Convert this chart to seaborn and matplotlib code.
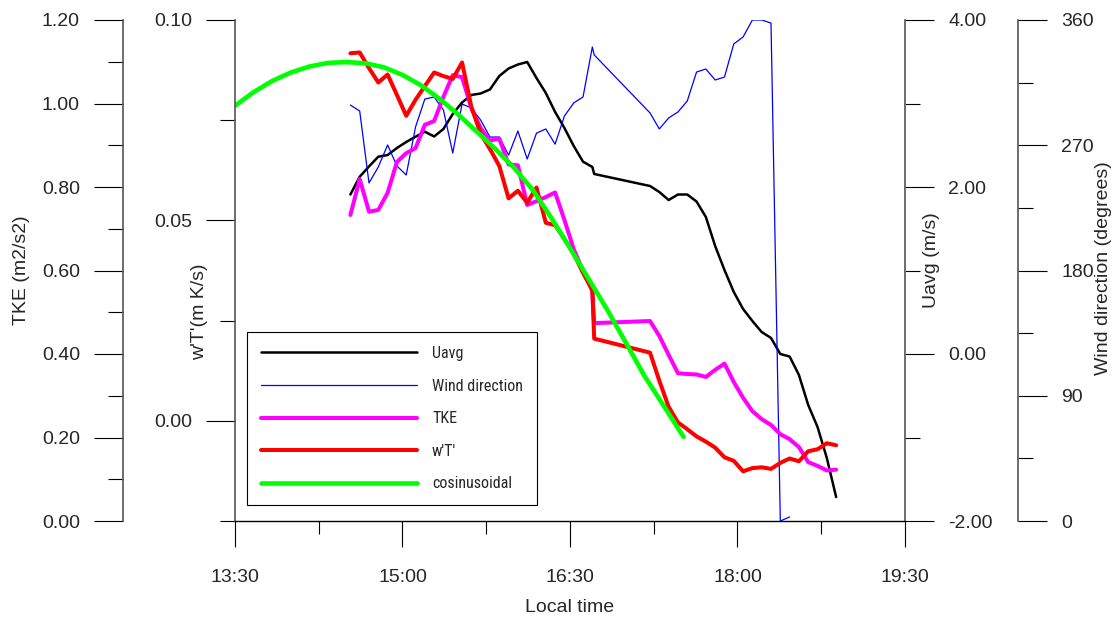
import matplotlib
matplotlib.use("Agg")
import matplotlib.pyplot as plt
from matplotlib.lines import Line2D
from matplotlib import font_manager
from matplotlib.font_manager import FontProperties
import seaborn as sns

sns.set_style("ticks")
plt.rcParams["font.family"] = ["Liberation Sans", "DejaVu Sans"]

# observation times (local), gap between 16:43 and 17:13
times = [
    "14:32", "14:37", "14:42", "14:47", "14:52", "14:57", "15:02", "15:07",
    "15:12", "15:17", "15:22", "15:27", "15:32", "15:37", "15:42", "15:47",
    "15:52", "15:57", "16:02", "16:07", "16:12", "16:17", "16:22", "16:27",
    "16:32", "16:37", "16:42", "16:43",
    "17:13", "17:18", "17:23", "17:28", "17:33", "17:38", "17:43", "17:48",
    "17:53", "17:58", "18:03", "18:08", "18:13", "18:18", "18:23", "18:28",
    "18:33", "18:38", "18:43", "18:48", "18:53",
]

uavg = [
    1.910, 2.123, 2.246, 2.363, 2.383, 2.467, 2.539, 2.602, 2.662, 2.605,
    2.695, 2.874, 3.012, 3.102, 3.120, 3.168, 3.329, 3.419, 3.467, 3.497,
    3.305, 3.126, 2.898, 2.707, 2.491, 2.303, 2.240, 2.156,
    2.012, 1.940, 1.844, 1.910, 1.910, 1.826, 1.641, 1.293, 1.006, 0.743,
    0.539, 0.395, 0.263, 0.192, 0.000, -0.030, -0.251, -0.611, -0.874,
    -1.246, -1.713,
]

# wind direction stops at 18:28
wind_dir = [
    298.9, 294.6, 242.9, 254.4, 270.2, 255.1, 248.6, 283.1, 303.2, 304.7,
    295.3, 264.4, 299.6, 296.8, 288.1, 275.9, 275.9, 262.9, 280.2, 260.1,
    278.7, 281.7, 270.8, 291.0, 300.4, 304.7, 340.6, 334.9,
    293.2, 281.7, 289.6, 293.9, 301.8, 322.6, 324.8, 316.9, 319.0, 342.8,
    347.8, 360.0, 360.0, 357.8, 0.0, 2.9,
]

tke = [
    0.733, 0.819, 0.741, 0.745, 0.786, 0.860, 0.881, 0.893, 0.949, 0.958,
    1.016, 1.068, 1.063, 0.989, 0.941, 0.911, 0.916, 0.854, 0.852, 0.757,
    0.766, 0.776, 0.787, 0.721, 0.651, 0.599, 0.551, 0.474,
    0.479, 0.443, 0.398, 0.354, 0.352, 0.351, 0.345, 0.362, 0.377, 0.333,
    0.295, 0.263, 0.244, 0.230, 0.208, 0.196, 0.177, 0.141, 0.132, 0.121,
    0.123,
]

wT = [
    0.0917, 0.0919, 0.0880, 0.0844, 0.0864, 0.0813, 0.0761, 0.0801, 0.0835,
    0.0869, 0.0860, 0.0853, 0.0894, 0.0783, 0.0716, 0.0678, 0.0636, 0.0555,
    0.0574, 0.0544, 0.0582, 0.0494, 0.0488, 0.0454, 0.0417, 0.0369, 0.0327,
    0.0205,
    0.0170, 0.0100, 0.0035, -0.0004, -0.0021, -0.0039, -0.0052, -0.0067,
    -0.0091, -0.0100, -0.0126, -0.0118, -0.0116, -0.0120, -0.0105, -0.0094,
    -0.0101, -0.0076, -0.0071, -0.0056, -0.0061,
]

# cosinusoidal fit of w'T'
cos_times = [
    "13:30", "13:40", "13:50", "14:00", "14:10", "14:20", "14:30", "14:40",
    "14:50", "15:00", "15:10", "15:20", "15:30", "15:40", "15:50", "16:00",
    "16:10", "16:20", "16:30", "16:40", "16:50", "17:00", "17:10", "17:20",
    "17:31",
]
cos_fit = [
    0.0786, 0.0820, 0.0848, 0.0869, 0.0884, 0.0893, 0.0895, 0.0892, 0.0882,
    0.0863, 0.0837, 0.0803, 0.0764, 0.0721, 0.0678, 0.0631, 0.0576, 0.0506,
    0.0431, 0.0354, 0.0277, 0.0195, 0.0112, 0.0040, -0.0040,
]

x_ticks = [13.5, 15.0, 16.5, 18.0, 19.5]
x_ticklabels = ["13:30", "15:00", "16:30", "18:00", "19:30"]


def to_hours(hhmm):
    h, m = hhmm.split(":")
    return int(h) + int(m) / 60


t_obs = [to_hours(s) for s in times]
t_cos = [to_hours(s) for s in cos_times]

W, H = 1116, 617
PT = 0.72  # points per pixel at dpi 100
fig = plt.figure(figsize=(W / 100, H / 100), dpi=100)
ax_w = fig.add_axes([235 / W, 96 / H, 670 / W, 501 / H])
ax_tke = ax_w.twinx()
ax_dir = ax_w.twinx()
ax_u = ax_w.twinx()

ax_w.set_zorder(4)
ax_w.patch.set_visible(False)
ax_tke.set_zorder(3)
ax_dir.set_zorder(2)
ax_u.set_zorder(1)

sns.lineplot(x=t_obs, y=uavg, ax=ax_u, color="black", linewidth=1.8)
sns.lineplot(x=t_obs[:len(wind_dir)], y=wind_dir, ax=ax_dir, color="#0000ff", linewidth=0.9)
sns.lineplot(x=t_obs, y=tke, ax=ax_tke, color="#ff00ff", linewidth=2.9)
sns.lineplot(x=t_obs, y=wT, ax=ax_w, color="#ff0000", linewidth=2.9)
sns.lineplot(x=t_cos, y=cos_fit, ax=ax_w, color="#00ff00", linewidth=3.3)

ax_w.set_xlim(13.5, 19.5)
ax_w.set_ylim(-0.025, 0.10)
ax_tke.set_ylim(0, 1.2)
ax_u.set_ylim(-2, 4)
ax_dir.set_ylim(0, 360)

for ax in (ax_w, ax_tke, ax_u, ax_dir):
    ax.set_xlabel("")
    ax.set_ylabel("")
    for s in ax.spines.values():
        s.set_visible(False)
        s.set_color("#555555")
        s.set_linewidth(1.2)

ax_w.spines["left"].set_visible(True)
ax_w.spines["bottom"].set_visible(True)
ax_w.spines["bottom"].set_color("black")
ax_w.spines["bottom"].set_linewidth(1.0)

ax_tke.spines["left"].set_visible(True)
ax_tke.spines["left"].set_position(("outward", 112 * PT))
ax_tke.yaxis.set_ticks_position("left")

ax_u.spines["right"].set_visible(True)
ax_dir.spines["right"].set_visible(True)
ax_dir.spines["right"].set_position(("outward", 113 * PT))

# ticks
ax_w.set_xticks(x_ticks)
ax_w.set_xticklabels(x_ticklabels)
ax_w.set_xticks([14.25, 15.75, 17.25, 18.75], minor=True)
ax_w.set_yticks([0.0, 0.05, 0.10])
ax_w.set_yticklabels(["0.00", "0.05", "0.10"])
ax_w.set_yticks([-0.025, 0.025, 0.075], minor=True)

tke_ticks = [0.0, 0.2, 0.4, 0.6, 0.8, 1.0, 1.2]
ax_tke.set_yticks(tke_ticks)
ax_tke.set_yticklabels([f"{v:.2f}" for v in tke_ticks])
ax_tke.set_yticks([0.1, 0.3, 0.5, 0.7, 0.9, 1.1], minor=True)

u_ticks = [-2, 0, 2, 4]
ax_u.set_yticks(u_ticks)
ax_u.set_yticklabels([f"{v:.2f}" for v in u_ticks])
ax_u.set_yticks([-1, 1, 3], minor=True)

dir_ticks = [0, 90, 180, 270, 360]
ax_dir.set_yticks(dir_ticks)
ax_dir.set_yticklabels([str(v) for v in dir_ticks])
ax_dir.set_yticks([45, 135, 225, 315], minor=True)

fs = 14
for ax in (ax_w, ax_tke, ax_u, ax_dir):
    ax.tick_params(axis="y", which="major", length=21, width=0.8, pad=10,
                   labelsize=fs, color="black", direction="out")
    ax.tick_params(axis="y", which="minor", length=10.5, width=0.8,
                   color="black", direction="out")
ax_w.tick_params(axis="x", which="major", length=19, width=0.8, pad=15.5,
                 labelsize=fs, color="black", direction="out")
ax_w.tick_params(axis="x", which="minor", length=9, width=0.8,
                 color="black", direction="out")

# axis titles
fig.text(22 / W, 1 - 270 / H, "TKE (m2/s2)", rotation=90, ha="center", va="center", fontsize=fs)
fig.text(200 / W, 1 - 312 / H, "w'T'(m K/s)", rotation=90, ha="center", va="center", fontsize=fs)
fig.text(932 / W, 1 - 260 / H, "Uavg (m/s)", rotation=90, ha="center", va="center", fontsize=fs)
fig.text(1104 / W, 1 - 268 / H, "Wind direction (degrees)", rotation=90, ha="center", va="center", fontsize=fs)
fig.text(570 / W, 1 - 607 / H, "Local time", ha="center", va="center", fontsize=fs)

# legend uses a condensed face when one is installed
installed = {f.name for f in font_manager.fontManager.ttflist}
leg_prop = FontProperties(family="Liberation Sans", size=11)
for name, size in [("Liberation Sans Narrow", 12.5), ("Roboto Condensed", 11.5)]:
    if name in installed:
        leg_prop = FontProperties(family=name, size=size)
        break
em = leg_prop.get_size_in_points() / PT  # font size in pixels

handles = [
    Line2D([], [], color="black", linewidth=1.8),
    Line2D([], [], color="#0000ff", linewidth=0.9),
    Line2D([], [], color="#ff00ff", linewidth=2.9),
    Line2D([], [], color="#ff0000", linewidth=2.9),
    Line2D([], [], color="#00ff00", linewidth=3.3),
]
labels = ["Uavg", "Wind direction", "TKE", "w'T'", "cosinusoidal"]
leg = fig.legend(handles, labels, loc="upper left",
                 bbox_to_anchor=(247 / W, 1 - 332 / H), borderaxespad=0,
                 prop=leg_prop, frameon=True, fancybox=False, shadow=False,
                 handlelength=156 / em, handletextpad=15 / em,
                 labelspacing=17.6 / em, borderpad=14 / em)
leg.get_frame().set_edgecolor("black")
leg.get_frame().set_linewidth(0.8)
leg.get_frame().set_facecolor("white")
leg.get_frame().set_alpha(1)

fig.savefig("out.png", dpi=100)
